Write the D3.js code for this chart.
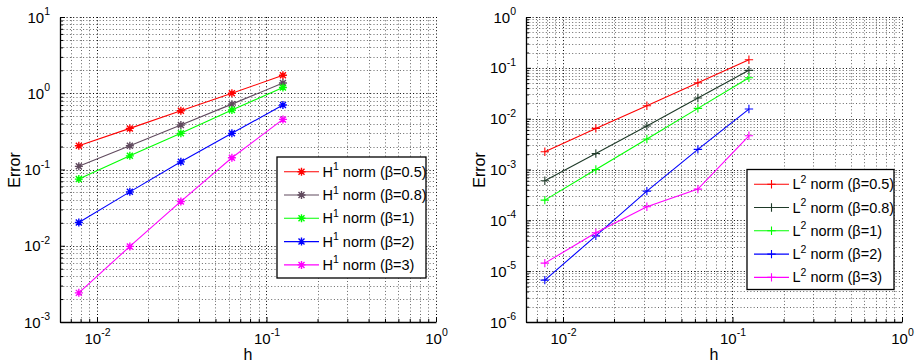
<!DOCTYPE html>
<html>
<head>
<meta charset="utf-8">
<script src="https://cdn.jsdelivr.net/npm/d3@7"></script>
<style>
  body { margin: 0; background: #fff; }
  svg { display: block; font-family: "Liberation Sans", Arial, sans-serif; }
</style>
</head>
<body>
<svg id="chart" width="917" height="364"></svg>
<script>
// mesh size h (shared x values)
const hValues = [0.0078125, 0.015625, 0.03125, 0.0625, 0.125]
const betaLabels = ['0.5', '0.8', '1', '2', '3']

// H1 norm errors
const h1Beta05 = [0.205, 0.346, 0.589, 1.0, 1.72]
const h1Beta08 = [0.110, 0.205, 0.383, 0.72, 1.36]
const h1Beta1 = [0.0748, 0.151, 0.298, 0.602, 1.19]
const h1Beta2 = [0.0202, 0.0509, 0.126, 0.298, 0.70]
const h1Beta3 = [0.00241, 0.0098, 0.0381, 0.1425, 0.454]

// L2 norm errors
const l2Beta05 = [0.00223, 0.00644, 0.01795, 0.0509, 0.144]
const l2Beta08 = [0.0006, 0.00207, 0.00715, 0.0255, 0.0893]
const l2Beta1 = [0.00025, 0.001, 0.00397, 0.01595, 0.0638]
const l2Beta2 = [6.65e-6, 4.95e-5, 3.76e-4, 0.00249, 0.01545]
const l2Beta3 = [1.44e-5, 5.68e-5, 1.85e-4, 4.11e-4, 0.0046]

// tick values
const xTicks = [0.01, 0.1, 1]
const yTicksLeft = [1e-3, 1e-2, 1e-1, 1, 10]
const yTicksRight = [1e-6, 1e-5, 1e-4, 1e-3, 1e-2, 1e-1, 1]

const xDomain = [0.00605, 1]

const svg = d3.select('#chart')

const markerPaths = {
  star: 'M-4,0H4M0,-4V4M-3,-3L3,3M-3,3L3,-3',
  plus: 'M-4.2,0H4.2M0,-4.2V4.2'
}

// expand decades into minor tick values (2..9 of each decade)
function minorTicks(domain) {
  const out = []
  const lo = Math.floor(Math.log10(domain[0]))
  const hi = Math.ceil(Math.log10(domain[1]))
  for (let e = lo; e < hi; e++) {
    for (let k = 2; k <= 9; k++) {
      const v = k * Math.pow(10, e)
      if (v >= domain[0] && v <= domain[1]) out.push(v)
    }
  }
  return out
}

function powLabel(textSel, exp) {
  textSel.append('tspan').text('10')
  textSel.append('tspan').attr('dy', -7.5).attr('font-size', 10.5).text(exp)
}

function drawPanel(opt) {
  const { left, right, top, bottom } = opt.box
  const g = svg.append('g')
  const x = d3.scaleLog().domain(xDomain).range([left, right])
  const y = d3.scaleLog().domain(opt.yDomain).range([bottom, top])

  // grid: minor
  const grid = g.append('g').attr('stroke', '#000').attr('stroke-width', 1).attr('stroke-dasharray', '1,2.3')
  grid.selectAll('.xminor').data(minorTicks(xDomain)).join('line')
    .attr('x1', d => Math.round(x(d)) + 0.5).attr('x2', d => Math.round(x(d)) + 0.5)
    .attr('y1', top).attr('y2', bottom).attr('stroke-opacity', 0.6)
  grid.selectAll('.yminor').data(minorTicks(opt.yDomain)).join('line')
    .attr('y1', d => Math.round(y(d)) + 0.5).attr('y2', d => Math.round(y(d)) + 0.5)
    .attr('x1', left).attr('x2', right).attr('stroke-opacity', 0.6)
  // grid: major
  const gridMaj = g.append('g').attr('stroke', '#000').attr('stroke-width', 1).attr('stroke-dasharray', '1,2.3')
  gridMaj.selectAll('line.xm').data(xTicks).join('line')
    .attr('x1', d => Math.round(x(d)) + 0.5).attr('x2', d => Math.round(x(d)) + 0.5)
    .attr('y1', top).attr('y2', bottom).attr('stroke-opacity', 1)
  gridMaj.selectAll('line.ym').data(opt.yTicks).join('line')
    .attr('y1', d => Math.round(y(d)) + 0.5).attr('y2', d => Math.round(y(d)) + 0.5)
    .attr('x1', left).attr('x2', right).attr('stroke-opacity', 1)

  // axes with inward ticks
  const xAxis = g.append('g').attr('transform', `translate(0,${bottom})`)
    .call(d3.axisBottom(x).tickValues(xTicks).tickSize(-5).tickSizeOuter(0).tickFormat(''))
  g.append('g').attr('transform', `translate(0,${bottom})`)
    .call(d3.axisBottom(x).tickValues(minorTicks(xDomain)).tickSize(-3).tickSizeOuter(0).tickFormat(''))
    .call(s => s.select('.domain').remove())
  const yAxis = g.append('g').attr('transform', `translate(${left},0)`)
    .call(d3.axisLeft(y).tickValues(opt.yTicks).tickSize(-5).tickSizeOuter(0).tickFormat(''))
  g.append('g').attr('transform', `translate(${left},0)`)
    .call(d3.axisLeft(y).tickValues(minorTicks(opt.yDomain)).tickSize(-3).tickSizeOuter(0).tickFormat(''))
    .call(s => s.select('.domain').remove())
  g.selectAll('.domain').attr('stroke', '#000').attr('stroke-width', 1.3)

  // tick labels
  xAxis.selectAll('.tick').append('text')
    .attr('fill', '#000').attr('font-size', 15).attr('text-anchor', 'middle')
    .attr('x', 0).attr('y', 21.5).attr('dy', 0)
    .each(function(d) { powLabel(d3.select(this), String(Math.round(Math.log10(d)))) })
  yAxis.selectAll('.tick').append('text')
    .attr('fill', '#000').attr('font-size', 15).attr('text-anchor', 'end')
    .attr('x', -10).attr('y', 5).attr('dy', 0)
    .each(function(d) { powLabel(d3.select(this), String(Math.round(Math.log10(d)))) })

  // axis titles
  g.append('text').attr('x', (left + right) / 2).attr('y', 360)
    .attr('text-anchor', 'middle').attr('font-size', 16).text('h')
  g.append('text').attr('transform', `translate(${opt.yLabelX},170) rotate(-90)`)
    .attr('text-anchor', 'middle').attr('font-size', 16).text('Error')

  // series
  const line = d3.line().x(d => x(d[0])).y(d => y(d[1]))
  opt.series.forEach(s => {
    const pts = hValues.map((h, i) => [h, s.values[i]])
    g.append('path').datum(pts).attr('d', line)
      .attr('fill', 'none').attr('stroke', s.color).attr('stroke-width', 1.1)
    g.selectAll(null).data(pts).join('path')
      .attr('transform', d => `translate(${x(d[0])},${y(d[1])})`)
      .attr('d', markerPaths[opt.marker]).attr('stroke', s.color).attr('stroke-width', opt.marker === 'star' ? 1.4 : 1.1)
  })

  // legend
  const L = opt.legend
  const lg = g.append('g')
  lg.append('rect').attr('x', L.x).attr('y', L.y).attr('width', L.w).attr('height', L.h)
    .attr('fill', '#fff').attr('stroke', '#000').attr('stroke-width', 1.3)
  opt.series.forEach((s, i) => {
    const cy = L.y + 14.7 + i * 23.3
    lg.append('line').attr('x1', L.x + 7).attr('x2', L.x + 42).attr('y1', cy).attr('y2', cy)
      .attr('stroke', s.color).attr('stroke-width', 1.1)
    lg.append('path').attr('transform', `translate(${L.x + 24.5},${cy})`)
      .attr('d', markerPaths[opt.marker]).attr('stroke', s.color).attr('stroke-width', opt.marker === 'star' ? 1.4 : 1.1)
    const t = lg.append('text').attr('x', L.x + 45.5).attr('y', cy + 5).attr('font-size', 14.5)
    t.append('tspan').text(opt.normLetter)
    t.append('tspan').attr('dy', -6.5).attr('font-size', 10.5).text(opt.normExp)
    t.append('tspan').attr('dy', 6.5).text(` norm (β=${s.beta})`)
  })
}

const leftColors = ['#ff0000', '#604a5e', '#00ff00', '#0000ff', '#ff00ff']
const rightColors = ['#ff0000', '#1e3a28', '#00ff00', '#0000ff', '#ff00ff']

drawPanel({
  box: { left: 60, right: 436, top: 17, bottom: 322 },
  yDomain: [1e-3, 10],
  yTicks: yTicksLeft,
  yLabelX: 20,
  marker: 'star',
  normLetter: 'H', normExp: '1',
  legend: { x: 277, y: 157, w: 149, h: 121 },
  series: [h1Beta05, h1Beta08, h1Beta1, h1Beta2, h1Beta3].map((v, i) => ({ values: v, color: leftColors[i], beta: betaLabels[i] }))
})

drawPanel({
  box: { left: 526, right: 902, top: 17, bottom: 322 },
  yDomain: [1e-6, 1],
  yTicks: yTicksRight,
  yLabelX: 485,
  marker: 'plus',
  normLetter: 'L', normExp: '2',
  legend: { x: 747, y: 169.5, w: 147, h: 120 },
  series: [l2Beta05, l2Beta08, l2Beta1, l2Beta2, l2Beta3].map((v, i) => ({ values: v, color: rightColors[i], beta: betaLabels[i] }))
})
</script>
</body>
</html>
